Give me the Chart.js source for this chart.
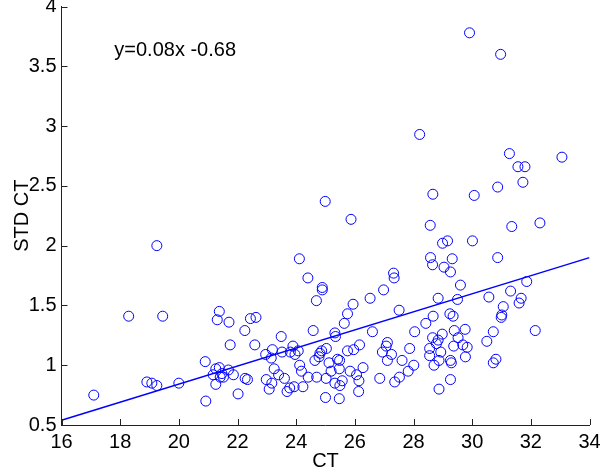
<!DOCTYPE html>
<html>
<head>
<meta charset="utf-8">
<script src="https://cdn.jsdelivr.net/npm/chart.js@4"></script>
<style>
  html, body { margin: 0; padding: 0; background: #fff; }
  #wrap { width: 600px; height: 473px; }
</style>
</head>
<body>
<div id="wrap"><canvas id="myChart"></canvas></div>
<script>
// CT (x) and STD CT (y)
const ctValues = [
  17.10, 18.29, 19.45, 19.25, 18.91, 19.08, 19.25, 20.00,
  20.90, 22.96, 23.19, 23.52, 23.15, 21.26, 21.38, 21.17, 21.47, 21.69, 21.86, 21.41, 21.52, 21.26,
  22.26, 22.34, 23.25, 23.40, 23.60, 22.98, 23.17, 23.08, 23.69, 23.78, 23.93, 22.02, 20.92,
  21.38, 21.31, 21.71, 22.44, 22.63, 22.25, 23.49, 21.75, 22.59,
  24.11, 24.40, 24.89, 24.89, 24.69, 26.52, 26.98, 25.94, 25.75, 25.64, 24.58, 25.32, 25.34, 26.60,
  23.89, 24.07, 23.80, 23.96, 25.03, 24.87, 24.81, 24.78, 24.64, 25.75, 25.96, 26.16, 26.94,
  25.41, 25.48, 25.12, 24.12, 24.18, 25.19, 25.47, 25.84, 26.28, 24.41, 24.70, 25.02, 25.32,
  25.49, 25.57, 26.06, 26.14, 26.85, 24.23, 26.13, 25.00, 25.47, 24.99, 25.87,
  28.99, 29.16, 30.01, 28.58, 28.65, 29.32, 29.04, 29.26, 27.32, 27.34, 29.60, 28.84, 29.50,
  27.51, 29.24, 29.35, 28.67, 28.42, 28.04, 29.39, 29.76, 28.98, 28.65, 28.84, 28.78, 29.52,
  27.11, 27.07, 27.87, 28.55, 29.37, 29.68, 29.83, 27.25, 28.55, 28.93, 27.61, 27.11, 28.87,
  28.70, 29.26, 29.29, 29.77, 28.01, 27.82, 27.52, 27.36, 29.26, 28.87,
  30.87, 31.86, 31.31, 30.57, 31.67, 31.60, 31.06, 31.01, 30.99, 30.72, 32.15, 30.50, 30.81, 30.72,
  29.91, 30.97, 28.21, 31.27, 33.06, 31.56, 31.80, 30.87, 31.73, 28.66, 30.07, 28.57, 31.35, 32.31
];
const stdValues = [
  0.75, 1.41, 1.41, 2.00, 0.86, 0.85, 0.83, 0.85,
  1.03, 1.09, 1.13, 1.11, 1.06, 0.97, 0.98, 0.92, 0.93, 0.96, 0.92, 0.90, 0.90, 0.84,
  0.89, 0.88, 0.97, 0.92, 0.89, 0.88, 0.85, 0.80, 0.78, 0.81, 0.82, 0.76, 0.70,
  1.45, 1.38, 1.36, 1.39, 1.40, 1.29, 1.24, 1.17, 1.17,
  1.89, 1.73, 1.65, 1.63, 1.54, 1.56, 1.63, 1.51, 1.43, 1.35, 1.29, 1.27, 1.24, 1.28,
  1.16, 1.12, 1.11, 1.09, 1.14, 1.12, 1.10, 1.07, 1.04, 1.12, 1.13, 1.17, 1.11,
  1.05, 1.04, 1.02, 1.00, 0.95, 0.95, 0.97, 0.95, 0.98, 0.90, 0.90, 0.89, 0.85,
  0.83, 0.87, 0.92, 0.87, 0.89, 0.82, 0.78, 0.73, 0.72, 2.37, 2.22,
  2.02, 2.04, 2.04, 1.90, 1.84, 1.89, 1.82, 1.78, 1.77, 1.73, 1.67, 1.56, 1.55,
  1.46, 1.43, 1.41, 1.41, 1.35, 1.28, 1.29, 1.30, 1.26, 1.23, 1.21, 1.18, 1.23,
  1.19, 1.16, 1.14, 1.14, 1.16, 1.17, 1.15, 1.09, 1.08, 1.11, 1.04, 1.04, 1.04,
  1.00, 1.04, 1.02, 1.07, 1.00, 0.95, 0.90, 0.86, 0.88, 0.80,
  1.90, 1.70, 1.62, 1.57, 1.56, 1.52, 1.49, 1.42, 1.40, 1.28, 1.29, 1.20, 1.05, 1.02,
  3.78, 3.60, 2.93, 2.77, 2.74, 2.66, 2.66, 2.49, 2.53, 2.43, 2.42, 2.17, 2.16, 2.19
];

// fitted line as drawn
const fitX = [16, 34];
const fitY = [0.54, 1.90];
const fitLabel = 'y=0.08x -0.68';
const fitLabelAt = [17.8, 3.63];

const xTicks = [16, 18, 20, 22, 24, 26, 28, 30, 32, 34];
const yTicks = [0.5, 1, 1.5, 2, 2.5, 3, 3.5, 4];

const FONT = "'Liberation Sans', Arial, sans-serif";
const FSIZE = 20;

const points = ctValues.map((x, i) => ({ x: x, y: stdValues[i] }));
const fitLine = fitX.map((x, i) => ({ x: x, y: fitY[i] }));

// matlab style ticks pointing into the plot + the equation text
const matlabTicks = {
  id: 'matlabTicks',
  afterDraw(chart) {
    const c = chart.ctx;
    const area = chart.chartArea;
    const xs = chart.scales.x, ys = chart.scales.y;
    c.save();
    c.strokeStyle = '#222';
    c.lineWidth = 1;
    c.beginPath();
    xTicks.forEach(v => {
      const px = Math.round(xs.getPixelForValue(v)) + 0.5;
      c.moveTo(px, area.bottom);
      c.lineTo(px, area.bottom - 6);
    });
    yTicks.forEach(v => {
      const py = Math.round(ys.getPixelForValue(v)) + 0.5;
      c.moveTo(area.left, py);
      c.lineTo(area.left + 6, py);
    });
    c.stroke();
    c.fillStyle = '#000';
    c.font = FSIZE + 'px ' + FONT;
    c.textAlign = 'left';
    c.textBaseline = 'middle';
    c.fillText(fitLabel, xs.getPixelForValue(fitLabelAt[0]), ys.getPixelForValue(fitLabelAt[1]));
    c.restore();
  }
};

const ctx = document.getElementById('myChart').getContext('2d');
new Chart(ctx, {
  type: 'scatter',
  data: {
    datasets: [{
      label: 'STD CT',
      data: points,
      pointStyle: 'circle',
      pointRadius: 5,
      pointHoverRadius: 5,
      borderColor: '#0000ff',
      backgroundColor: 'rgba(0,0,0,0)',
      borderWidth: 1
    }, {
      type: 'line',
      label: 'fit',
      data: fitLine,
      borderColor: '#0000ff',
      borderWidth: 1.5,
      pointRadius: 0,
      fill: false
    }]
  },
  options: {
    responsive: true,
    maintainAspectRatio: false,
    animation: false,
    layout: { padding: { top: 6.5, right: 10.5, left: 0, bottom: 0 } },
    plugins: {
      legend: { display: false },
      tooltip: { enabled: false }
    },
    scales: {
      x: {
        type: 'linear',
        min: 16,
        max: 34,
        afterBuildTicks: s => { s.ticks = xTicks.map(v => ({ value: v })); },
        afterFit: s => { s.height = 48; s.paddingLeft = 0; s.paddingRight = 0; },
        grid: { display: true, drawOnChartArea: false, drawTicks: false },
        border: { color: '#222', width: 1 },
        ticks: { color: '#000', padding: 5, font: { family: FONT, size: FSIZE }, maxRotation: 0,
                 callback: v => String(v) },
        title: { display: true, text: 'CT', color: '#000', padding: { top: 0, bottom: 0 }, font: { family: FONT, size: FSIZE } }
      },
      y: {
        type: 'linear',
        min: 0.5,
        max: 4,
        afterBuildTicks: s => { s.ticks = yTicks.map(v => ({ value: v })); },
        afterFit: s => { s.width = 61.5; s.paddingTop = 0; s.paddingBottom = 0; },
        grid: { display: true, drawOnChartArea: false, drawTicks: false },
        border: { color: '#222', width: 1 },
        ticks: { color: '#000', padding: 5, font: { family: FONT, size: FSIZE },
                 callback: v => String(v) },
        title: { display: true, text: 'STD CT', color: '#000', padding: { top: 10, bottom: 0 }, font: { family: FONT, size: FSIZE } }
      }
    }
  },
  plugins: [matlabTicks]
});
</script>
</body>
</html>
